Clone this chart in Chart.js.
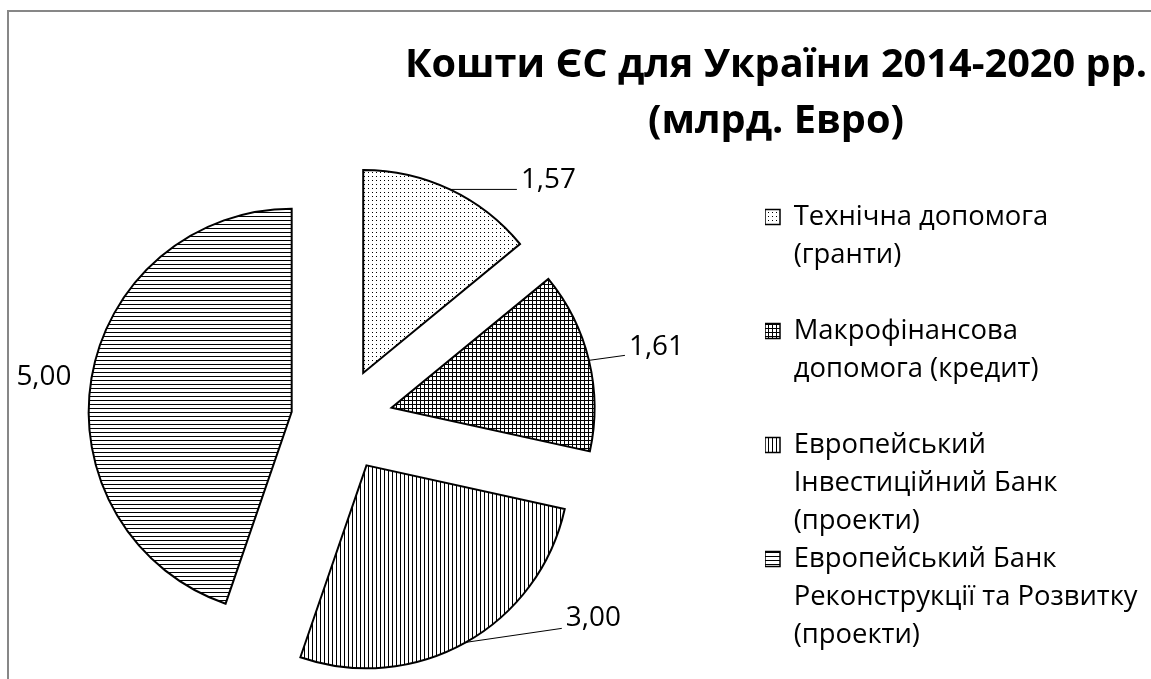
<!DOCTYPE html>
<html>
<head>
<meta charset="utf-8">
<script src="https://cdn.jsdelivr.net/npm/chart.js@4.4.1/dist/chart.umd.min.js"></script>
<style>
  html, body { margin: 0; padding: 0; background: #fff; width: 1151px; height: 679px; overflow: hidden; }
  #frame { position: absolute; left: 7px; top: 10px; width: 1300px; height: 800px;
           border-left: 2px solid #878787; border-top: 2px solid #878787; }
  #wrap { position: absolute; left: 0; top: 0; width: 1151px; height: 679px; overflow: hidden; }
  #c { position: absolute; top: 0; }
  #title { position: absolute; text-align: center; color: #000; white-space: nowrap;
           font-family: "Open Sans", sans-serif; font-weight: 700; }
</style>
</head>
<body>
<div id="frame"></div>
<div id="wrap"><canvas id="c"></canvas></div>
<div id="title"></div>
<script>
// ---------------- data ----------------
const titleLines = ['Кошти ЄС для України 2014-2020 рр.', '(млрд. Евро)'];
const categories = [
  ['Технічна допомога', '(гранти)'],
  ['Макрофінансова', 'допомога (кредит)'],
  ['Европейський', 'Інвестиційний Банк', '(проекти)'],
  ['Европейський Банк', 'Реконструкції та Розвитку', '(проекти)']
];
const values = [1.57, 1.61, 3.00, 5.00];

// ---------------- layout / style ----------------
const FAMILY = '"Open Sans", sans-serif';
const W = 1151, H = 679;
const SHIFT = 100;                 // canvas extends off-screen to the left
const PIE_CX = 341, PIE_CY = 420;  // screen centre of the (unexploded) pie
const PIE_R = 203;
const LEGEND_X = 765, LEGEND_FIRST_Y = 217, LEGEND_LINE = 38;
const legendGapAfter = [1, 1, 0, 0];
const TITLE_CX = 776, TITLE_TOP = 34, TITLE_LINE = 56;

const mctx = document.createElement('canvas').getContext('2d');
function fitSize(text, weight, target) {
  mctx.font = weight + ' 100px ' + FAMILY;
  return Math.round(1000 * target / mctx.measureText(text).width) / 10;
}
const titleSize = fitSize(titleLines[0], 700, 742);
const legendSize = fitSize(categories[3][1], 400, 344);
const labelSize = fitSize('5,00', 400, 55);

function makePattern(kind) {
  const c = document.createElement('canvas');
  c.width = 4; c.height = 4;
  const g = c.getContext('2d');
  g.fillStyle = '#fff'; g.fillRect(0, 0, 4, 4);
  g.fillStyle = '#000';
  if (kind === 'dots') g.fillRect(0, 0, 1, 1);
  if (kind === 'grid') { g.fillRect(0, 0, 4, 1); g.fillRect(0, 0, 1, 4); }
  if (kind === 'vlines') g.fillRect(0, 0, 1, 4);
  if (kind === 'hlines') g.fillRect(0, 0, 4, 1);
  return g.createPattern(c, 'repeat');
}
const patterns = ['dots', 'grid', 'vlines', 'hlines'].map(makePattern);

// title (real text)
const t = document.getElementById('title');
titleLines.forEach(s => { const d = document.createElement('div'); d.textContent = s; t.appendChild(d); });
t.style.fontSize = titleSize + 'px';
t.style.lineHeight = TITLE_LINE + 'px';
t.style.left = (TITLE_CX - 500) + 'px';
t.style.width = '1000px';
t.style.top = TITLE_TOP + 'px';

// ---------------- plugins ----------------
const explodePlugin = {
  id: 'explode',
  afterDatasetsUpdate(chart, args, opts) {
    chart.getDatasetMeta(0).data.forEach((arc, i) => {
      const mid = (arc.startAngle + arc.endAngle) / 2;
      const d = opts.distances[i] || 0;
      arc.x += Math.cos(mid) * d;
      arc.y += Math.sin(mid) * d;
    });
  }
};

const valueLabelPlugin = {
  id: 'valueLabels',
  afterDatasetsDraw(chart, args, opts) {
    const ctx = chart.ctx;
    const meta = chart.getDatasetMeta(0);
    const data = chart.data.datasets[0].data;
    ctx.save();
    ctx.font = '400 ' + opts.size + 'px ' + FAMILY;
    ctx.fillStyle = '#000';
    ctx.strokeStyle = '#000';
    ctx.lineWidth = 1;
    ctx.textBaseline = 'middle';
    meta.data.forEach((arc, i) => {
      const L = opts.layout[i];
      const mid = (arc.startAngle + arc.endAngle) / 2;
      const px = arc.x + Math.cos(mid) * arc.outerRadius;
      const py = arc.y + Math.sin(mid) * arc.outerRadius;
      const ex = px + L.dx, ey = py + L.dy;
      if (L.line) {
        ctx.beginPath(); ctx.moveTo(px, py); ctx.lineTo(ex, ey); ctx.stroke();
      }
      ctx.textAlign = L.align;
      const txt = data[i].toFixed(2).replace('.', ',');
      ctx.fillText(txt, ex + (L.align === 'left' ? 4 : 0), ey + L.ty);
    });
    ctx.restore();
  }
};

// ---------------- chart ----------------
const canvas = document.getElementById('c');
canvas.width = W + SHIFT;
canvas.height = H;
canvas.style.left = (-SHIFT) + 'px';

const padTop = 2 * PIE_CY - H;  // chart area centre = PIE_CY
const legendSpacer = LEGEND_FIRST_Y - legendSize / 2 - padTop;

const chart = new Chart(canvas, {
  type: 'pie',
  data: {
    labels: categories,
    datasets: [{
      data: values,
      backgroundColor: patterns,
      borderColor: '#000',
      borderWidth: 2,
      borderJoinStyle: 'miter',
      hoverOffset: 0,
      radius: PIE_R
    }]
  },
  options: {
    responsive: false,
    animation: false,
    events: [],
    layout: { padding: { left: 0, right: 0, top: padTop, bottom: 0 } },
    plugins: {
      tooltip: { enabled: false },
      title: { display: false },
      legend: {
        display: true,
        position: 'right',
        align: 'start',
        title: { display: true, text: '', padding: 0, font: { size: 10, lineHeight: legendSpacer.toFixed(2) + 'px' } },
        labels: {
          boxWidth: 15,
          boxHeight: 15,
          padding: 0,
          color: '#000',
          textAlign: 'left',
          font: { family: FAMILY, size: legendSize, lineHeight: LEGEND_LINE + 'px' },
          generateLabels(ch) {
            const ds = ch.data.datasets[0];
            return ch.data.labels.map((lab, i) => ({
              text: legendGapAfter[i] ? lab.concat(['']) : lab,
              fillStyle: ds.backgroundColor[i],
              strokeStyle: '#000',
              lineWidth: 1.5,
              fontColor: '#000',
              hidden: false,
              index: i
            }));
          }
        }
      },
      explode: { distances: [52, 52, 52, 50] },
      valueLabels: {
        size: labelSize,
        layout: [
          { line: true,  dx: 67, dy: 0,   ty: -9,  align: 'left' },
          { line: true,  dx: 36, dy: -5,  ty: -8,  align: 'left' },
          { line: true,  dx: 96, dy: -14, ty: -10, align: 'left' },
          { line: false, dx: -20, dy: -1, ty: 0,   align: 'right' }
        ]
      }
    }
  },
  plugins: [explodePlugin, valueLabelPlugin]
});

// place chart area so that the pie centre and the legend land where wanted
const lw = chart.legend.width;
chart.options.layout.padding.right = (W + SHIFT) - (LEGEND_X + SHIFT) - lw;
chart.options.layout.padding.left = 2 * (PIE_CX + SHIFT) - (LEGEND_X + SHIFT);
chart.update();
</script>
</body>
</html>
